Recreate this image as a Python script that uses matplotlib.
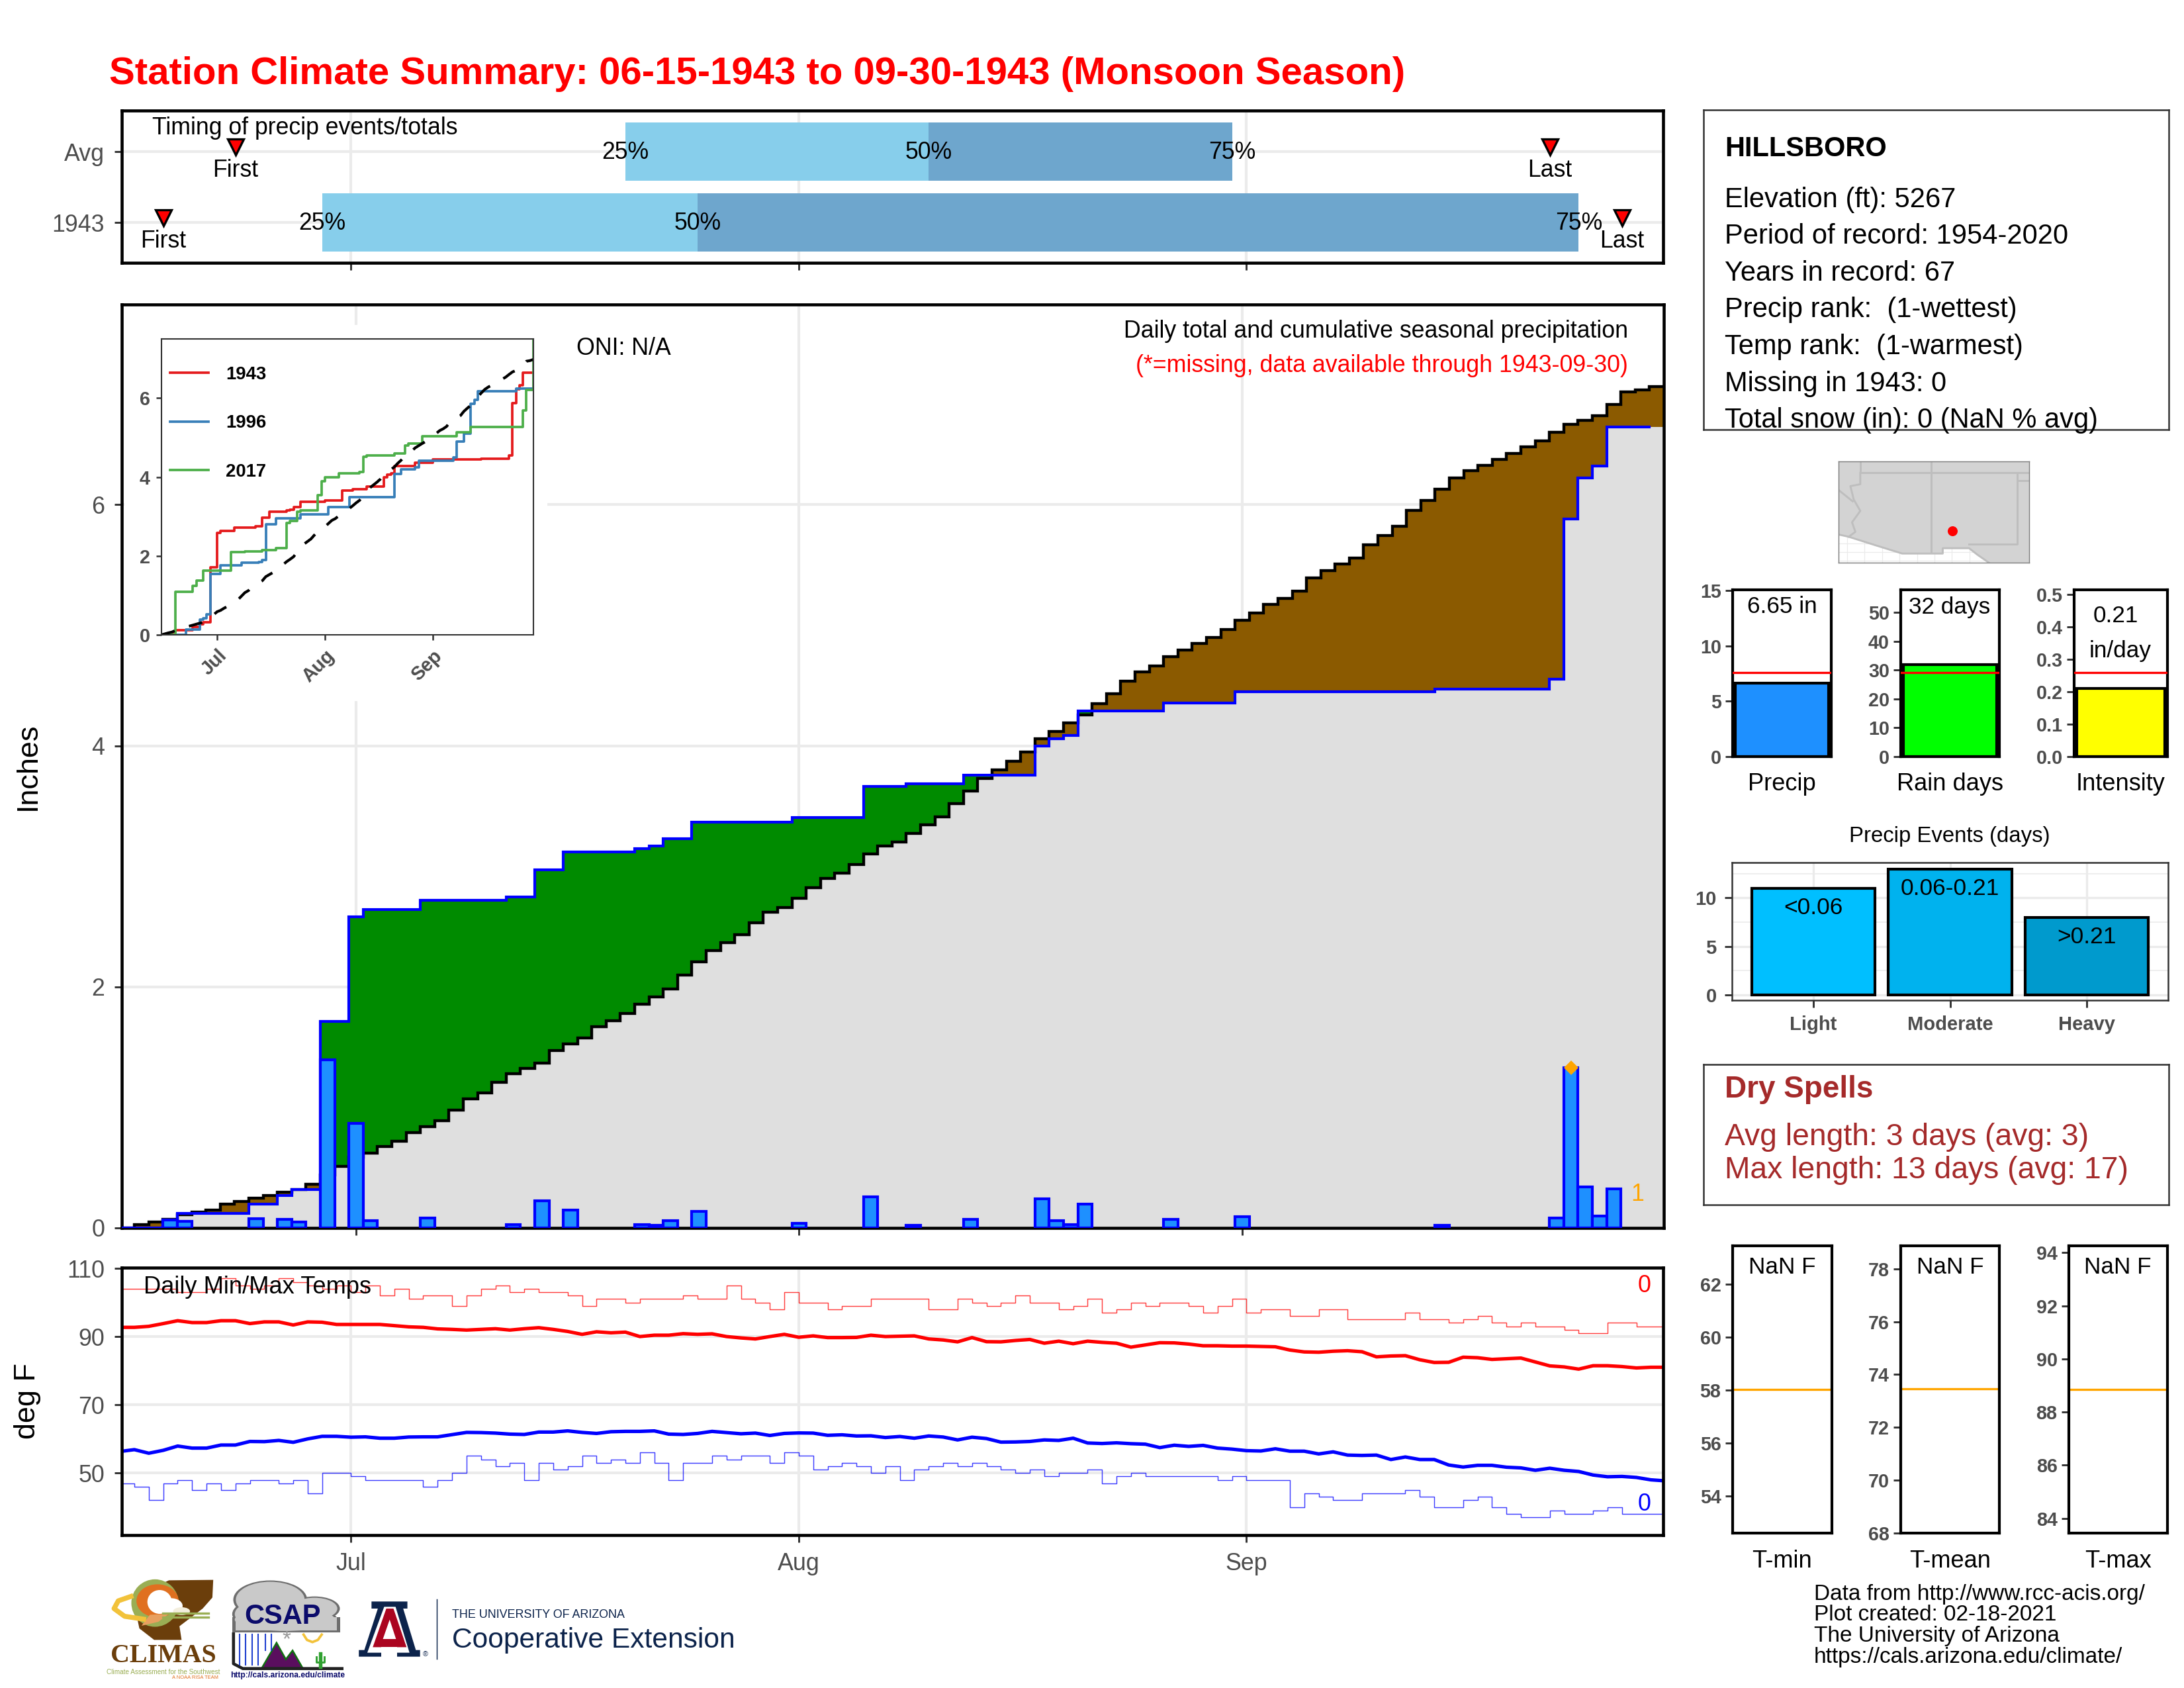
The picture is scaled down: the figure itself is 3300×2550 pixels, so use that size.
import numpy as np
import matplotlib
matplotlib.use("Agg")
import matplotlib.pyplot as plt
from matplotlib.patches import Polygon, Ellipse

plt.rcParams['font.family'] = ['Liberation Sans', 'DejaVu Sans']

W, H = 3300, 2550

# season days, 0 = Jun 15, 107 = Sep 30
days = np.arange(108)
month_ticks = [16, 47, 78]
month_labels = ["Jul", "Aug", "Sep"]

# daily precip 1943 (only the wet days)
wet_days = [3, 4, 9, 11, 12, 14, 16, 17, 21, 27, 29, 31, 36, 37, 38, 40, 47, 52, 55, 59,
            64, 65, 66, 67, 73, 78, 92, 100, 101, 102, 103, 104]
wet_amounts = [.066, .056, .078, .07, .05, 1.393, .867, .06, .08, .025, .225, .15, .027, .02, .063, .135,
               .041, .259, .021, .071, .239, .061, .03, .199, .071, .091, .021, .081, 1.33, .34, .1, .325]

# average cumulative precip
avg_cum = [0, .025, .05, .07, .11, .13, .15, .2, .22, .245, .27, .295, .32, .36, .44, .51,
           .585, .62, .675, .72, .79, .84, .89, .98, 1.07, 1.12, 1.21, 1.28, 1.325, 1.37, 1.474,
           1.525, 1.576, 1.67, 1.72, 1.78, 1.855, 1.915, 1.98, 2.095, 2.21, 2.3, 2.365, 2.43, 2.53,
           2.62, 2.66, 2.735, 2.82, 2.9, 2.945, 3.015, 3.1, 3.17, 3.2, 3.27, 3.345, 3.41, 3.52,
           3.625, 3.73, 3.8, 3.87, 3.95, 4.06, 4.12, 4.19, 4.255, 4.35, 4.43, 4.535, 4.615, 4.66,
           4.74, 4.795, 4.85, 4.9, 4.965, 5.04, 5.1, 5.175, 5.22, 5.28, 5.39, 5.45, 5.505, 5.555,
           5.665, 5.745, 5.82, 5.95, 6.035, 6.13, 6.22, 6.28, 6.325, 6.375, 6.425, 6.48, 6.53,
           6.6, 6.665, 6.7, 6.74, 6.83, 6.935, 6.95, 6.98]

# comparison years for the inset
days_1996 = [0, 7, 11, 12, 13, 14, 17, 22, 23, 28, 29, 30, 33, 39, 40, 48, 54, 67, 69, 73, 74, 84, 85, 87, 89,
             90, 91, 102, 107]
cum_1996 = [0, .14, .38, .425, .515, 1.55, 1.76, 1.77, 1.83, 1.85, 1.89, 2.81, 2.95, 2.96, 3.05, 3.245, 3.49,
            4.08, 4.2, 4.245, 4.41, 4.5, 4.9, 5.1, 5.85, 5.96, 6.18, 6.245, 6.245]
days_2017 = [0, 4, 9, 10, 12, 20, 24, 29, 33, 36, 37, 39, 40, 45, 46, 47, 51, 57, 58, 59, 67, 70, 71, 75, 85, 89,
             104, 105, 107]
cum_2017 = [0, 1.085, 1.25, 1.37, 1.63, 2.09, 2.12, 2.15, 2.19, 2.84, 2.885, 3.125, 3.15, 3.545, 3.886, 4.0,
            4.095, 4.125, 4.515, 4.545, 4.605, 4.8, 4.856, 5.03, 5.14, 5.275, 5.68, 6.21, 7.6]

# daily temps 1943
tmin_daily = [47, 46, 42, 47, 48, 45, 47, 45, 47, 48, 48, 47, 48, 44, 50, 50, 49, 48, 48, 48,
              48, 46, 48, 50, 55, 54, 52, 53, 48, 53, 51, 52, 55, 53, 54, 53, 56, 53, 48, 53,
              53, 55, 54, 55, 55, 53, 56, 55, 51, 52, 53, 52, 50, 52, 48, 51, 52, 53, 52, 53,
              52, 51, 50, 51, 49, 50, 50, 51, 47, 49, 50, 49, 49, 49, 49, 49, 48, 49, 48, 48,
              48, 40, 44, 43, 42, 42, 44, 44, 44, 45, 43, 40, 40, 42, 43, 40, 38, 37, 37, 39,
              38, 38, 39, 40, 38, 38, 38, 38]
tmax_daily = [104, 104, 104, 104, 103, 103, 104, 107, 105, 104, 105, 107, 106, 105, 104, 105, 103, 105, 102, 104,
              101, 102, 102, 99, 102, 104, 105, 103, 104, 103, 103, 102, 99, 101, 101, 100, 101, 101, 101, 102,
              101, 101, 105, 101, 100, 98, 103, 100, 100, 98, 99, 99, 101, 101, 101, 101, 98, 98, 101, 100,
              99, 100, 102, 100, 100, 98, 99, 101, 97, 98, 100, 99, 100, 100, 99, 97, 99, 101, 97, 98,
              98, 96, 96, 98, 98, 95, 95, 95, 95, 97, 95, 95, 94, 95, 96, 94, 93, 94, 93, 93,
              92, 91, 91, 94, 94, 93, 93, 93]

# daily temp averages
tmax_avg = [92.7, 92.7, 93.0, 93.8, 94.65, 94.1, 94.1, 94.65, 94.65, 93.8, 94.3, 94.3, 93.4, 94.3, 94.2, 93.55,
            93.55, 93.55, 93.55, 93.2, 92.85, 92.7, 92.25, 92.1, 91.9, 92.1, 92.3, 91.9, 92.3, 92.6, 92.1, 91.5,
            90.65, 91.4, 91.1, 91.3, 90, 90.4, 90.4, 90.85, 90.65, 90.8, 90, 89.6, 89.3, 90, 90.65, 89.8, 90.2,
            89.7, 89.7, 89.75, 90.4, 90, 90.1, 90.2, 89.3, 89, 88.45, 89.7, 88.5, 88.45, 88.85, 89.15, 88.05,
            88.65, 87.9, 88.65, 88.3, 88.05, 86.9, 87.55, 88.2, 88.15, 87.8, 87.3, 87.3, 87.2, 87.2, 87.1, 87,
            86.05, 85.5, 85.4, 85.7, 85.85, 85.55, 84.05, 84.3, 84.4, 83.2, 82.4, 82.45, 83.95, 83.8, 83.3, 83.5,
            83.7, 82.55, 81.4, 81.1, 80.45, 81.45, 81.45, 81.2, 80.8, 81, 81]
tmin_avg = [56.3, 56.85, 55.8, 56.65, 57.9, 57.3, 57.3, 58.2, 58.2, 59.25, 59.2, 59.55, 59, 60, 60.75, 60.75,
            60.5, 60.6, 60.2, 60.2, 60.55, 60.6, 60.6, 61.25, 61.9, 61.85, 61.7, 61.4, 61.3, 62, 62, 62.35, 61.9,
            61.6, 62.1, 62.2, 62.2, 62.35, 61.4, 61.3, 61.6, 62.2, 61.85, 61.5, 61.7, 61, 61.6, 61.75, 61.7, 61.05,
            61.2, 60.85, 60.9, 60.4, 60.7, 60.2, 60.85, 60.55, 59.7, 60.5, 60.1, 59.05, 59.1, 59.25, 59.7, 59.55,
            60.2, 58.8, 58.65, 58.85, 58.6, 58.45, 57.45, 58.15, 57.8, 58.1, 57.3, 57, 56.55, 56.45, 57.1, 56.4,
            56.4, 55.6, 56.2, 55.25, 55.15, 55.25, 53.95, 54.7, 53.95, 53.95, 52.35, 51.75, 52.25, 52.25, 51.7,
            51.5, 50.8, 51.4, 50.8, 50.45, 49.4, 48.9, 49, 48.7, 48, 47.7]

# timing panel: quartile days and first/last event days, [1943, Avg]
timing_labels = ["1943", "Avg"]
q25 = [14, 35]
q50 = [40, 56]
q75 = [101, 77]
first_day = [3, 8]
last_day = [104, 99]

# summary bars
summary_names = ["Precip", "Rain days", "Intensity"]
summary_values = [6.65, 32, 0.21]
summary_avgs = [7.6, 29.2, 0.259]
event_names = ["Light", "Moderate", "Heavy"]
event_values = [11, 13, 8]
event_ranges = ["<0.06", "0.06-0.21", ">0.21"]
temp_names = ["T-min", "T-mean", "T-max"]
temp_avgs = [58.03, 73.45, 88.85]

info_lines = ["Elevation (ft): 5267", "Period of record: 1954-2020", "Years in record: 67",
              "Precip rank:  (1-wettest)", "Temp rank:  (1-warmest)", "Missing in 1943: 0",
              "Total snow (in): 0 (NaN % avg)"]
footer_lines = ["Data from http://www.rcc-acis.org/", "Plot created: 02-18-2021", "The University of Arizona",
                "https://cals.arizona.edu/climate/"]

# map outlines, in crop pixels
map_land = [(519, 30), (1097, 30), (1097, 296), (975, 296), (940, 275), (915, 258), (835, 258), (835, 272),
            (712, 272), (630, 250), (550, 228), (519, 222)]
map_borders = [[(585, 30), (585, 60), (1097, 60)], [(800, 30), (800, 268)], [(1060, 60), (1060, 248), (915, 248)],
               [(1060, 80), (1097, 80)], [(585, 60), (585, 90), (555, 95), (565, 130), (585, 160), (560, 190),
                                          (570, 215), (550, 228)],
               [(519, 105), (562, 135)], [(519, 222), (550, 228), (630, 250), (712, 272), (835, 272), (835, 258),
                                          (915, 258), (940, 275), (975, 296)]]
station_xy = (865, 213)

GREY30 = "#4D4D4D"
GREY20 = "#333333"
GRID = "#EBEBEB"


def add_ax(x0, y0, x1, y1, **kw):
    return fig.add_axes([x0 / W, 1 - y1 / H, (x1 - x0) / W, (y1 - y0) / H], **kw)


def px_text(x, y, s, **kw):
    kw.setdefault("va", "center")
    return fig.text(x / W, 1 - (y + 4) / H, s, **kw)


def black_box(ax, lw=1.1, color="black"):
    for s in ax.spines.values():
        s.set_linewidth(lw)
        s.set_color(color)


def mid_steps(v):
    x = np.repeat(days, 2) + np.tile([-.5, .5], len(days))
    return x, np.repeat(v, 2)


fig = plt.figure(figsize=(11, 8.5), dpi=300)

px_text(165, 108, "Station Climate Summary: 06-15-1943 to 09-30-1943 (Monsoon Season)",
        color="red", fontweight="bold", fontsize=13.95)

# ---- timing panel
ax = add_ax(184, 167, 2513, 397)
xlim_t = (0.13, 106.85)
ax.set_xlim(*xlim_t)
ax.set_ylim(.43, 2.58)
ax.grid(color=GRID, lw=1.0, zorder=0)
ax.set_axisbelow(True)
ax.set_xticks(month_ticks)
ax.set_xticklabels([])
ax.set_yticks([1, 2])
ax.set_yticklabels(timing_labels, fontsize=8.6, color=GREY30)
ax.tick_params(color=GREY20, length=2.7, width=.7)
black_box(ax)
for i in range(2):
    ax.barh(i + 1, q50[i] - q25[i], left=q25[i], height=.83, color="#87CEEB", zorder=2)
    ax.barh(i + 1, q75[i] - q50[i], left=q50[i], height=.83, color="#6EA6CD", zorder=2)
    for q, lab in zip((q25[i], q50[i], q75[i]), ("25%", "50%", "75%")):
        ax.text(q, i + 1 - .01, lab, ha="center", va="center", fontsize=8.55, zorder=4)
    ax.plot([first_day[i], last_day[i]], [i + 1.07, i + 1.07], ls="none", marker="v", ms=5.6, mfc="red",
            mec="black", mew=.8, zorder=4)
    ax.text(first_day[i], i + .73, "First", ha="center", va="center", fontsize=8.55, zorder=4)
    ax.text(last_day[i], i + .73, "Last", ha="center", va="center", fontsize=8.55, zorder=4)
ax.text(2.25, 2.33, "Timing of precip events/totals", ha="left", va="center", fontsize=8.55)

# ---- main precip panel
precip_daily = np.zeros(len(days))
precip_daily[wet_days] = wet_amounts
cum_1943 = np.cumsum(precip_daily)
avg_arr = np.array(avg_cum)

ax = add_ax(184, 460, 2514, 1855)
ax.set_xlim(-.39, 107.5)
ax.set_ylim(0, 7.66)
ax.grid(color=GRID, lw=1.0, zorder=0)
ax.set_axisbelow(True)
ax.set_xticks(month_ticks)
ax.set_xticklabels([])
ax.set_yticks([0, 2, 4, 6])
ax.tick_params(color=GREY20, length=2.7, width=.7, labelsize=8.6, labelcolor=GREY30)
ax.tick_params(axis="x", labelbottom=False)
black_box(ax)

xs, y_obs = mid_steps(cum_1943)
_, y_avg = mid_steps(avg_arr)
lower = np.minimum(y_obs, y_avg)
ax.fill_between(xs, 0, lower, color="#DFDFDF", lw=0, zorder=1)
ax.fill_between(xs, y_avg, np.maximum(y_obs, y_avg), color="#008B00", lw=0, zorder=1)
ax.fill_between(xs, y_obs, np.maximum(y_obs, y_avg), color="#8B5A00", lw=0, zorder=1)
ax.plot(xs, y_avg, color="black", lw=1.05, zorder=2, solid_joinstyle="miter")
ax.plot(xs[:-2], y_obs[:-2], color="blue", lw=1.0, zorder=3, solid_joinstyle="miter")
ax.bar(days[precip_daily > 0], precip_daily[precip_daily > 0], width=1, color="#1E90FF", edgecolor="blue",
       lw=1.0, zorder=4)
big = int(np.argmax(precip_daily == max(wet_amounts[-4:])))
ax.plot([big], [precip_daily[big]], marker="D", ms=2.6, color="orange", ls="none", zorder=5, clip_on=False)
ax.set_ylabel("Inches", fontsize=10.8, va="center")
ax.yaxis.set_label_coords((42 - 184) / 2330, .5)

# white block behind the inset
ax.add_patch(plt.Rectangle((190 / W, 1 - 1057 / H), 635 / W, 564 / H, transform=fig.transFigure, color="white",
                           zorder=1.5))
px_text(871, 522, "ONI: N/A", fontsize=8.6)
px_text(2460, 497, "Daily total and cumulative seasonal precipitation", fontsize=8.6, ha="right")
px_text(2460, 548, "(*=missing, data available through 1943-09-30)", fontsize=8.6, ha="right", color="red")
px_text(2474, 1801, "1", fontsize=8.6, ha="center", color="orange")

# ---- inset of cumulative curves
ins = add_ax(244, 512, 806, 959)
ins.set_xlim(0, 107)
ins.set_ylim(0, 7.5)
ins.step(days, cum_1943, where="post", color="#E41A1C", lw=.9, label="1943")
ins.step(days_1996, cum_1996, where="post", color="#377EB8", lw=.9, label="1996")
ins.step(days_2017, cum_2017, where="post", color="#4DAF4A", lw=.9, label="2017")
ins.plot(days, avg_arr, color="black", lw=1.0, dashes=(5, 5.5))
ins.set_xticks(month_ticks)
ins.set_xticklabels(month_labels, rotation=45, ha="right", rotation_mode="anchor", fontweight="bold")
ins.set_yticks([0, 2, 4, 6])
ins.tick_params(color=GREY20, length=2, width=.6, labelsize=6.9, labelcolor=GREY30, pad=2.2)
for lab in ins.get_yticklabels():
    lab.set_fontweight("bold")
black_box(ins, lw=.5, color=GREY20)
ins.legend(loc="upper left", bbox_to_anchor=(.023, .908), frameon=False, prop={"size": 6.6, "weight": "bold"},
           handlelength=2.1, labelspacing=1.72, borderaxespad=0, borderpad=0, handletextpad=.95)

# ---- temperature panel
ax = add_ax(184, 1915, 2513, 2319)
ax.set_xlim(*xlim_t)
ax.set_ylim(31.8, 110.2)
ax.grid(color=GRID, lw=1.0, zorder=0)
ax.set_axisbelow(True)
ax.set_xticks(month_ticks)
ax.set_xticklabels(month_labels)
ax.set_yticks([50, 70, 90, 110])
ax.tick_params(color=GREY20, length=2.7, width=.7, labelsize=8.6, labelcolor=GREY30)
ax.tick_params(axis="x", pad=3.5)
black_box(ax)
ax.step(days, tmax_daily, where="post", color="red", lw=.35, alpha=.75)
ax.step(days, tmin_daily, where="post", color="blue", lw=.35, alpha=.75)
ax.plot(days, tmax_avg, color="red", lw=1.25)
ax.plot(days, tmin_avg, color="blue", lw=1.25)
ax.set_ylabel("deg F", fontsize=10.8, va="center")
ax.yaxis.set_label_coords((42 - 184) / 2329, .5)
px_text(217, 1940, "Daily Min/Max Temps", fontsize=8.7)
px_text(2485, 1939, "0", fontsize=8.6, color="red", ha="center")
px_text(2485, 2269, "0", fontsize=8.6, color="blue", ha="center")

# ---- station info box
box = add_ax(2574, 166, 3277, 649)
box.set_xticks([])
box.set_yticks([])
black_box(box, lw=.6, color=GREY20)
px_text(2606, 221, "HILLSBORO", fontsize=10, fontweight="bold")
for i, line in enumerate(info_lines):
    px_text(2606, 297.6 + 55.6 * i, line, fontsize=10)

# ---- locator map
mp = add_ax(2778, 697, 3066, 850)
mp.set_xlim(519, 1097)
mp.set_ylim(296, 30)
mp.set_xticks([])
mp.set_yticks([])
for gx in range(545, 1097, 53):
    mp.axvline(gx, color=GRID, lw=.3, zorder=0)
for gy in (245, 268, 290):
    mp.axhline(gy, color=GRID, lw=.3, zorder=0)
mp.add_patch(Polygon(map_land, color="#D3D3D3", lw=0, zorder=1))
for line in map_borders:
    mp.plot(*zip(*line), color="#BEBEBE", lw=.7, zorder=2)
mp.plot([station_xy[0]], [station_xy[1]], marker="o", ms=3.6, color="red", zorder=3, mew=0)
black_box(mp, lw=.35, color="#7F7F7F")

# ---- precip / rain days / intensity bars
boxes = [(2618, 2767), (2872, 3021), (3134, 3275)]
ylims = [(0, 15.05), (0, 57.9), (0, .514)]
yticks = [[0, 5, 10, 15], [0, 10, 20, 30, 40, 50], [0, .1, .2, .3, .4, .5]]
fmts = ["%d", "%d", "%.1f"]
bar_colors = ["#1E90FF", "#00FF00", "#FFFF00"]
for i in range(3):
    a = add_ax(boxes[i][0], 891, boxes[i][1], 1143)
    a.bar([0], [summary_values[i]], width=.95, color=bar_colors[i], edgecolor="black", lw=1.0)
    a.axhline(summary_avgs[i], color="red", lw=.8, zorder=3)
    a.set_xlim(-.5, .5)
    a.set_ylim(*ylims[i])
    a.set_xticks([])
    a.set_yticks(yticks[i])
    a.set_yticklabels([fmts[i] % t for t in yticks[i]], fontweight="bold")
    a.tick_params(color=GREY20, length=2.6, width=.7, labelsize=6.9, labelcolor=GREY30, pad=1.5)
    black_box(a, lw=1.0)
px_text(2692.6, 1180, summary_names[0], fontsize=8.7, ha="center")
px_text(2947, 1180, summary_names[1], fontsize=8.7, ha="center")
px_text(3204, 1180, summary_names[2], fontsize=8.7, ha="center")
px_text(2692.6, 913, "6.65 in", fontsize=8.45, ha="center")
px_text(2946, 913, "32 days", fontsize=8.45, ha="center")
px_text(3197, 926, "0.21", fontsize=8.45, ha="center")
px_text(3204, 979, "in/day", fontsize=8.45, ha="center")

# ---- precip events
px_text(2946, 1259, "Precip Events (days)", fontsize=7.9, ha="center")
a = add_ax(2617, 1303, 3276, 1511)
a.set_xlim(.406, 3.594)
a.set_ylim(-.55, 13.65)
a.set_yticks([0, 5, 10])
a.set_yticks([2.5, 7.5, 12.5], minor=True)
a.set_xticks([1, 2, 3])
a.set_xticklabels(event_names, fontweight="bold")
a.grid(color=GRID, lw=.8, zorder=0)
a.grid(which="minor", axis="y", color=GRID, lw=.4, zorder=0)
a.set_axisbelow(True)
a.tick_params(which="minor", length=0)
a.tick_params(color=GREY20, length=2.6, width=.7, labelsize=7, labelcolor=GREY30, pad=3)
for lab in a.get_yticklabels():
    lab.set_fontweight("bold")
a.bar([1, 2, 3], event_values, width=.9, color=["#00BFFF", "#00B2EE", "#009ACD"], edgecolor="black", lw=1.0)
for i in range(3):
    a.text(i + 1, event_values[i] - 2.05, event_ranges[i], ha="center", va="center", fontsize=8.5)
black_box(a, lw=.6, color=GREY20)

# ---- dry spells
box = add_ax(2574, 1608, 3277, 1820)
box.set_xticks([])
box.set_yticks([])
black_box(box, lw=.6, color=GREY20)
px_text(2606, 1641.5, "Dry Spells", fontsize=11, fontweight="bold", color="#A52A2A")
px_text(2606, 1714, "Avg length: 3 days (avg: 3)", fontsize=11.1, color="#A52A2A")
px_text(2606, 1764.5, "Max length: 13 days (avg: 17)", fontsize=11.1, color="#A52A2A")

# ---- seasonal temps
tboxes = [(2617.5, 2768), (2872, 3021.3), (3125.6, 3275)]
tylims = [(52.6, 63.47), (68, 78.88), (83.44, 94.27)]
tticks = [[54, 56, 58, 60, 62], [68, 70, 72, 74, 76, 78], [84, 86, 88, 90, 92, 94]]
for i in range(3):
    a = add_ax(tboxes[i][0], 1881.5, tboxes[i][1], 2316)
    a.axhline(temp_avgs[i], color="orange", lw=.8)
    a.set_ylim(*tylims[i])
    a.set_xticks([])
    a.set_yticks(tticks[i])
    a.set_yticklabels([str(t) for t in tticks[i]], fontweight="bold")
    a.tick_params(color=GREY20, length=2.6, width=.7, labelsize=6.9, labelcolor=GREY30, pad=1.5)
    black_box(a, lw=1.0)
    cx = (tboxes[i][0] + tboxes[i][1]) / 2
    px_text(cx, 1910, "NaN F", fontsize=8.45, ha="center")
    px_text(cx, 2354, temp_names[i], fontsize=8.7, ha="center")

for i, line in enumerate(footer_lines):
    px_text(2741, 2404 + 31.7 * i, line, fontsize=8.0)

# ---- logos, drawn in crop pixels
lg = add_ax(150, 2350, 1150, 2550)
lg.set_xlim(0, 1568)
lg.set_ylim(600, 0)
lg.axis("off")
NAVY = "#0C234B"
BROWN = "#6B3E0B"
OLIVE = "#9AAE54"
# CLIMAS
lg.add_patch(Polygon([(165, 112), (270, 110), (268, 190), (245, 240), (190, 320), (195, 382), (130, 382), (95, 330),
                      (85, 240), (100, 170)], color=BROWN, lw=0))
lg.add_patch(Ellipse((132, 215), 112, 215, color=OLIVE, lw=0))
lg.add_patch(Ellipse((138, 205), 100, 150, color="#E07020", lw=0))
lg.add_patch(Ellipse((143, 210), 58, 108, color="white", lw=0))
lg.add_patch(Ellipse((170, 228), 55, 70, color="white", lw=0))
lg.add_patch(Ellipse((195, 252), 40, 36, color="#F3EEDD", lw=0))
lg.plot([75, 45, 35, 60, 105], [185, 205, 240, 275, 288], color="#F2C23A", lw=1.8)
lg.plot([150, 258], [262, 262], color=OLIVE, lw=.8)
lg.plot([150, 258], [280, 280], color=OLIVE, lw=.8)
lg.add_patch(Polygon([(100, 318), (120, 268), (165, 264), (140, 300)], color="#E8A060", lw=0))
lg.text(152, 455, "CLIMAS", family="Liberation Serif", fontweight="bold", color=BROWN, fontsize=9.6, ha="center",
        va="center")
lg.text(152, 527, "Climate Assessment for the Southwest", color=OLIVE, fontsize=2.4, ha="center", va="center")
lg.text(228, 553, "A NOAA RISA TEAM", color="#E07020", fontsize=1.8, ha="center", va="center")
# CSAP
cloud = [(405, 200, 175, 175), (510, 240, 120, 110), (370, 265, 110, 120), (440, 290, 250, 115)]
for c in cloud:
    lg.add_patch(Ellipse(c[:2], c[2], c[3], color="#6E6E6E", lw=0))
lg.add_patch(plt.Rectangle((315, 280), 255, 68, color="#6E6E6E", lw=0))
for c in cloud:
    lg.add_patch(Ellipse(c[:2], c[2] - 12, c[3] - 12, color="#C9C9C9", lw=0))
lg.add_patch(plt.Rectangle((323, 280), 240, 60, color="#C9C9C9", lw=0))
lg.text(435, 277, "CSAP", color="#0B0B6B", fontweight="bold", fontsize=10, ha="center", va="center")
lg.plot([318, 318, 340, 575], [355, 490, 512, 512], color="#222222", lw=1.1)
for bx in (333, 347, 362, 377, 393, 408):
    lg.plot([bx, bx], [358, 495 if bx < 393 else 430], color="#2040D0", lw=.5)
lg.add_patch(Polygon([(385, 510), (420, 395), (442, 470), (458, 430), (482, 510)], fc="#5A0E5E", ec="#107010", lw=.6))
lg.plot([484, 492, 505, 518, 527], [358, 382, 392, 382, 358], color="#F2C23A", lw=.9)
lg.text(443, 382, "*", color="#999999", fontsize=8, ha="center", va="center")
lg.plot([524, 524], [445, 505], color="#30A030", lw=1.3)
lg.plot([515, 515, 533, 533], [460, 482, 482, 460], color="#30A030", lw=.7)
lg.text(447, 543, "http://cals.arizona.edu/climate", color="#0B0B6B", fontweight="bold", fontsize=2.9, ha="center",
        va="center")
# UA
lg.add_patch(Polygon([(645, 208), (730, 208), (730, 240), (720, 240), (750, 428), (760, 428), (760, 458), (615, 458),
                      (615, 428), (628, 428), (660, 240), (645, 240)], color=NAVY, lw=0))
lg.add_patch(Polygon([(675, 232), (702, 232), (735, 440), (635, 440)], color="white", lw=0))
lg.add_patch(Polygon([(680, 240), (697, 240), (728, 415), (648, 415)], color="#AB0520", lw=0))
lg.add_patch(Polygon([(688, 290), (703, 378), (672, 378)], color="white", lw=0))
lg.add_patch(plt.Rectangle((668, 415), 38, 43, color="white", lw=0))
lg.plot([800, 800], [198, 468], color=NAVY, lw=.35)
lg.text(772, 447, "\u00ae", color=NAVY, fontsize=2.6, ha="center", va="center")
lg.text(835, 270, "THE UNIVERSITY OF ARIZONA", color=NAVY, fontsize=4.3, ha="left", va="center")
lg.text(835, 385, "Cooperative Extension", color=NAVY, fontsize=10.2, ha="left", va="center")

fig.savefig("out.png", dpi=300)
